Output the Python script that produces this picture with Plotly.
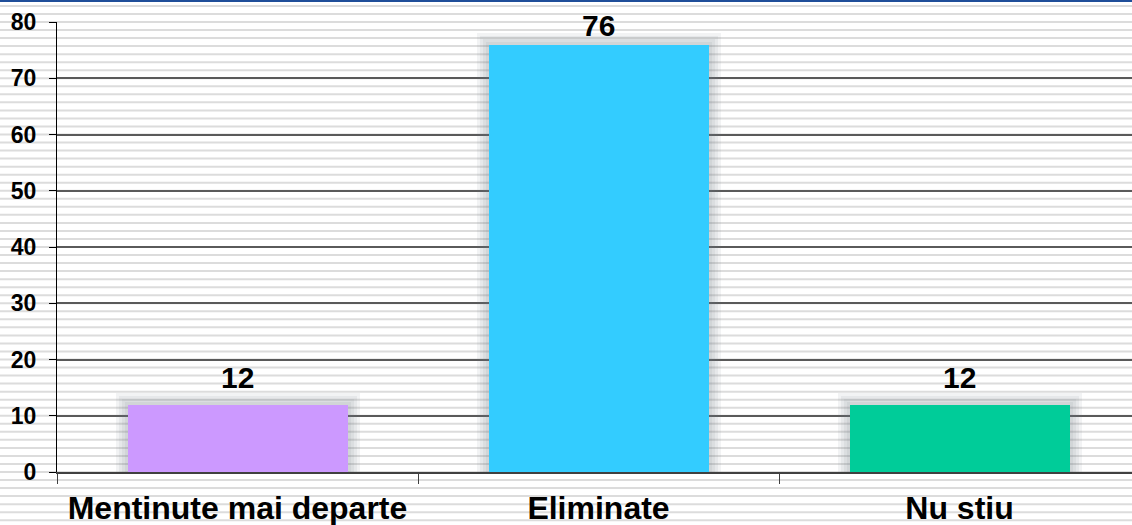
import plotly.graph_objects as go

categories = ["Mentinute mai departe", "Eliminate", "Nu stiu"]
values = [12, 76, 12]
colors = ["#CC99FF", "#33CCFF", "#00CC99"]
y_ticks = [0, 10, 20, 30, 40, 50, 60, 70, 80]

W, H = 1132, 525
L, R, T, B = 57, 0, 22, 53
plot_w = W - L - R
plot_h = H - T - B
cat_px = 361.0
x_range = [-0.5, -0.5 + plot_w / cat_px]
px_per_unit = plot_h / 80.0
bar_w = 220 / cat_px
FONT = "Liberation Sans, Arial, sans-serif"

fig = go.Figure()

# soft glow behind bars
for d in [12, 9, 6, 3]:
    fig.add_trace(go.Bar(
        x=categories,
        y=[v + d / px_per_unit for v in values],
        width=bar_w + 2 * d / cat_px,
        marker=dict(color="rgba(110,118,135,0.09)", line=dict(width=0)),
        hoverinfo="skip", showlegend=False,
    ))

fig.add_trace(go.Bar(
    x=categories, y=values, width=bar_w,
    marker=dict(color=colors, line=dict(width=0)),
    showlegend=False,
))

# data labels; the tallest one is pushed down to stay inside the chart
annotations = []
for c, v in zip(categories, values):
    top_room = (80 - v) * px_per_unit
    shift = 9 if top_room > 40 else 1
    annotations.append(dict(
        x=c, y=v, xref="x", yref="y", text=str(v), showarrow=False,
        yanchor="bottom", yshift=shift,
        font=dict(family=FONT, size=30, color="black", weight="bold"),
    ))

shapes = []
# striped background across the whole page
x0p = -L / plot_w
for k in range(-7, 60):
    yp = k / 56.0
    shapes.append(dict(type="line", xref="paper", yref="paper", x0=x0p, x1=1.0,
                       y0=yp, y1=yp, line=dict(color="#DCDCDC", width=2), layer="below"))
# top blue rule
ytop = (plot_h + T - 1) / plot_h
shapes.append(dict(type="line", xref="paper", yref="paper", x0=x0p, x1=1.0,
                   y0=ytop, y1=ytop, line=dict(color="#1F4E99", width=2), layer="above"))

fig.update_layout(
    width=W, height=H,
    margin=dict(l=L, r=R, t=T, b=B, pad=0, autoexpand=False),
    paper_bgcolor="white", plot_bgcolor="rgba(0,0,0,0)",
    barmode="overlay", bargap=0,
    shapes=shapes, annotations=annotations,
    showlegend=False, hovermode=False,
    font=dict(family=FONT, color="black"),
    xaxis=dict(
        type="category", range=x_range, tickson="boundaries", automargin=False,
        showgrid=False, showline=True, linecolor="#404040", linewidth=1.5,
        ticks="outside", ticklen=10, tickcolor="#404040", tickwidth=1,
        tickfont=dict(family=FONT, size=32, color="black", weight="bold"),
        ticklabelstandoff=7, zeroline=False,
    ),
    yaxis=dict(
        range=[0, 80], tickvals=y_ticks, automargin=False,
        showgrid=True, gridcolor="#5A5A5A", gridwidth=1.5,
        showline=True, linecolor="black", linewidth=1,
        ticks="outside", ticklen=7, tickcolor="black",
        tickfont=dict(family=FONT, size=23, color="black", weight="bold"),
        ticklabelstandoff=8, zeroline=False,
    ),
)

fig.write_html("out.html", config={"displayModeBar": False},
               post_script="document.body.style.margin='0';document.body.style.overflow='hidden';")
